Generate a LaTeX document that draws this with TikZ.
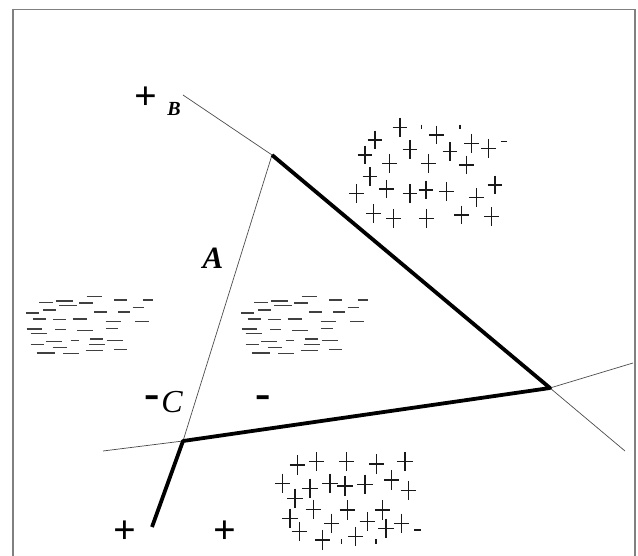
\documentclass[tikz,border=0pt]{standalone}
\usepackage{fontspec}
\setmainfont{Liberation Serif}
\newcommand\myDashField{%
  \foreach \a/\b/\c in {260/305/50, 118/160/68, 168/220/63, 178/232/77, 238/278/69, 342/380/60, 428/458/60,
    78/118/99, 130/168/90, 283/320/96, 355/390/96, 398/432/83,
    98/138/117, 160/198/118, 218/262/117, 317/362/124, 405/448/124,
    80/125/147, 165/198/148, 232/280/151, 318/354/145, 92/140/161,
    138/185/184, 212/238/181, 270/308/177, 320/368/181, 92/132/193, 268/316/193, 158/200/202,
    110/165/219, 190/238/221, 257/310/211, 342/380/208}
  {\draw[dashline] (\a,\c) -- (\b,\c);}}
\begin{document}
\begin{tikzpicture}[x=1pt,y=-1pt,
  frameline/.style={draw=black!50, line width=1.3pt},
  thinline/.style={draw=black!70, line width=0.7pt},
  thickline/.style={draw=black, line width=3.8pt, line join=round},
  dashline/.style={draw=black!75, line width=1.2pt},
  crossline/.style={draw=black!90, line width=1.1pt},
  bigsign/.style={inner sep=0pt, font=\fontsize{40}{40}\selectfont\bfseries},
  minussign/.style={inner sep=0pt, font=\fontsize{46}{46}\selectfont\bfseries},
  lbl/.style={inner sep=0pt}]
\useasboundingbox (0,0) rectangle (638,556);
% frame
\draw[frameline] (13,556) -- (13,9.5) -- (635,9.5) -- (635,556);
% coordinates
\coordinate (B0) at (183,95);
\coordinate (P1) at (272,155);
\coordinate (P2) at (550,388);
\coordinate (P3) at (183,441);
\coordinate (E1) at (625,451);
\coordinate (E2) at (633,363);
\coordinate (E3) at (103,451);
\coordinate (E4) at (152,527);
% thin lines
\draw[thinline] (B0) -- (P1);
\draw[thinline] (P1) -- (P3);
\draw[thinline] (P2) -- (E1);
\draw[thinline] (P2) -- (E2);
\draw[thinline] (P3) -- (E3);
% thick lines
\draw[thickline] (P1) -- (P2) -- (P3) -- (E4);
% labels
\node[bigsign] (plusB) at (146,98) {+};
\node[lbl, font=\fontsize{20}{20}\selectfont\bfseries\itshape] (labB) at (174,109) {B};
\node[lbl, font=\fontsize{31}{31}\selectfont\bfseries\itshape] (labA) at (213,258) {A};
\node[lbl, font=\fontsize{32}{32}\selectfont\itshape] (labC) at (172,402) {C};
\node[minussign] (minC) at (152,402) {-};
\node[minussign] (minR) at (263,402) {-};
\node[bigsign] (plusL) at (125,532) {+};
\node[bigsign] (plusR) at (225,532) {+};
% dash fields
\begin{scope}[shift={(0,280)}, scale=1/3]
  \myDashField
\end{scope}
\begin{scope}[shift={(215,280)}, scale=1/3]
  \myDashField
\end{scope}
% upper plus field
\begin{scope}[shift={(340,110)}, scale=1/3]
  \foreach \x/\y in {105/90, 180/52, 290/75, 395/100, 445/115, 75/135, 210/118, 330/125,
    148/160, 265/160, 380/165, 90/200, 50/250, 140/237, 210/250, 258/240, 320/245,
    410/262, 465/225, 100/310, 160/325, 260/325, 365/315, 455/320}
    {\draw[crossline] (\x-22,\y) -- (\x+22,\y) (\x,\y-28) -- (\x,\y+28);}
  \draw[crossline] (245,44) -- (245,58) (360,44) -- (360,58) (484,95) -- (500,95);
\end{scope}
% lower plus field
\begin{scope}[shift={(260,440)}, scale=1/3]
  \foreach \x/\y in {112/75, 170/65, 260/65, 350/72, 435/65, 68/130, 150/145, 210/130,
    255/138, 315/133, 395/120, 445/152, 105/175, 160/208, 262/210, 368/210, 90/235,
    118/275, 215/250, 322/245, 378/265, 425/250, 188/300, 287/290}
    {\draw[crossline] (\x-23,\y) -- (\x+23,\y) (\x,\y-29) -- (\x,\y+29);}
  \draw[crossline] (462,270) -- (482,270) (245,298) -- (245,312) (348,298) -- (348,312);
\end{scope}
\end{tikzpicture}
\end{document}
